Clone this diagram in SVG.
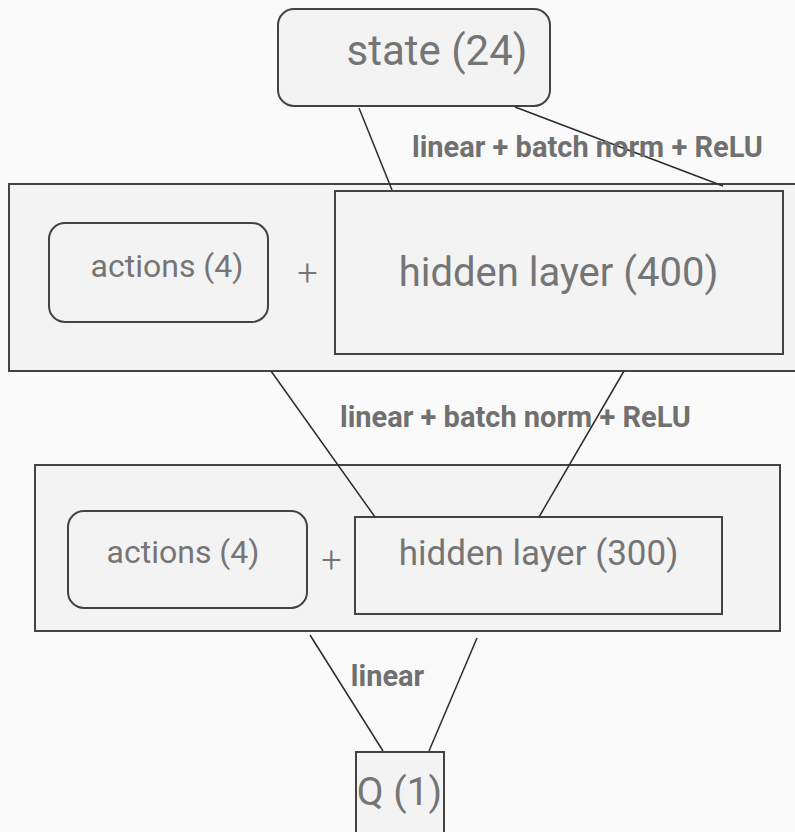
<svg xmlns="http://www.w3.org/2000/svg" width="795" height="832" viewBox="0 0 795 832">
<style>
.box{fill:#f3f3f3;stroke:#434343;stroke-width:2}
.ln{stroke:#2b2b2b;stroke-width:1.5;fill:none}
.t{font-family:Roboto,"Liberation Sans",sans-serif;fill:#757575;text-anchor:middle}
.p{font-weight:300}
.b{font-family:Roboto,"Liberation Sans",sans-serif;fill:#707070;font-weight:bold;font-size:29px;text-anchor:middle}
</style>
<rect x="0" y="0" width="795" height="832" fill="#fafafa"/>
<g id="state">
<rect class="box" x="278" y="9" width="272" height="97" rx="16"/>
<text class="t" x="437" y="65" font-size="42">state (24)</text>
</g>
<g id="layer1">
<rect class="box" x="9" y="184" width="800" height="187"/>
<g id="actions1">
<rect class="box" x="49" y="223" width="219" height="99" rx="16"/>
<text class="t" x="167" y="277" font-size="32">actions (4)</text>
</g>
<text class="t p" x="307.5" y="285" font-size="36">+</text>
<g id="hidden400">
<rect class="box" x="335" y="191" width="448" height="163"/>
<text class="t" x="558.5" y="286" font-size="40">hidden layer (400)</text>
</g>
</g>
<g id="layer2">
<rect class="box" x="35" y="465" width="745" height="166"/>
<g id="actions2">
<rect class="box" x="68" y="511" width="239" height="97" rx="16"/>
<text class="t" x="183" y="563" font-size="32">actions (4)</text>
</g>
<text class="t p" x="331.5" y="572" font-size="36">+</text>
<g id="hidden300">
<rect class="box" x="355" y="517" width="367" height="97"/>
<text class="t" x="538.5" y="565" font-size="35">hidden layer (300)</text>
</g>
</g>
<g id="q">
<rect class="box" x="356" y="752" width="88" height="82"/>
<text class="t" x="399.5" y="805" font-size="39">Q (1)</text>
</g>
<g id="connectors">
<line class="ln" x1="359" y1="108" x2="392" y2="190"/>
<line class="ln" x1="515" y1="107" x2="723" y2="186"/>
<line class="ln" x1="271" y1="371" x2="375" y2="517"/>
<line class="ln" x1="624" y1="371" x2="539" y2="517"/>
<line class="ln" x1="310" y1="635" x2="383" y2="751"/>
<line class="ln" x1="477" y1="638" x2="429" y2="751"/>
<text class="b" x="587.5" y="157">linear + batch norm + ReLU</text>
<text class="b" x="515.5" y="427">linear + batch norm + ReLU</text>
<text class="b" x="387.5" y="686">linear</text>
</g>
</svg>
